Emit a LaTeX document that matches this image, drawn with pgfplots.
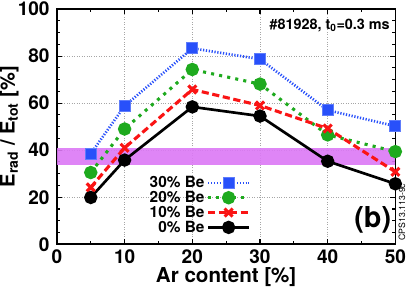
\documentclass[border=0pt]{standalone}
\usepackage{fontspec}
\setmainfont{TeX Gyre Heros}
\setsansfont{TeX Gyre Heros}
\usepackage{pgfplots}
\pgfplotsset{compat=1.18}
\definecolor{cblue}{RGB}{40,80,250}
\definecolor{cgreen}{RGB}{30,170,30}
\definecolor{cred}{RGB}{250,20,20}
\definecolor{cband}{RGB}{220,120,245}
\begin{document}
\begin{tikzpicture}
\begin{axis}[
  scale only axis, width=328bp, height=228bp,
  xmin=0, xmax=50, ymin=0, ymax=100,
  xtick={0,10,20,30,40,50}, ytick={0,20,40,60,80,100},
  minor x tick num=1, minor y tick num=3,
  tick align=inside, major tick length=5pt, minor tick length=3pt,
  axis line style={line width=1.6pt},
  every tick/.style={black, line width=1pt},
  grid=major, grid style={gray!70, dotted, line width=0.5pt},
  /pgf/number format/assume math mode=true,
  ticklabel style={font=\fontsize{18.5}{18.5}\selectfont\bfseries},
  xticklabel style={inner sep=2pt, yshift=-3pt},
  yticklabel style={inner sep=2pt, xshift=-5pt},
  xlabel={\fontsize{20}{20}\selectfont\bfseries Ar content [\%]},
  ylabel={\fontsize{19.5}{19.5}\selectfont\bfseries E$_{\mathbf{rad}}$ / E$_{\mathbf{tot}}$ [\%]},
  xlabel style={inner sep=0pt, yshift=-2pt},
  ylabel style={inner sep=0pt, yshift=-3pt},
  legend style={draw=none, fill=none, at={(0.573,0.035)}, anchor=south east,
    font=\fontsize{15}{15}\selectfont\bfseries, row sep=-2pt, inner sep=0pt},
  legend cell align=right, legend plot pos=right,
  legend image code/.code={\draw[#1, mark=none] (0cm,0cm) -- (1.4cm,0cm);
    \draw[#1, solid] plot[only marks] coordinates {(0.7cm,0cm)};},
  clip=false,
]
\fill[cband, opacity=0.9] (axis cs:0,33.5) rectangle (axis cs:50,41);
\addplot[cblue, line width=2.6pt, dash pattern=on 1.2pt off 1.6pt, mark=square*, mark size=5.3pt,
  mark options={solid, line width=1pt, fill=cblue, draw=cblue!75!white}] coordinates {
  (5,38.5) (10,58.8) (20,83.3) (30,78.7) (40,57) (50,50.2)};
\addlegendentry{30\% Be}
\addplot[cgreen, line width=3pt, dash pattern=on 3pt off 5pt, mark=*, mark size=5pt,
  mark options={solid, fill=cgreen}] coordinates {
  (5,30.5) (10,49) (20,74.3) (30,68.1) (40,46.5) (50,39.4)};
\addlegendentry{20\% Be}
\addplot[cred, line width=3pt, dash pattern=on 7pt off 3.5pt, mark=x, mark size=5.5pt,
  mark options={solid, line width=3pt}] coordinates {
  (5,24.2) (10,41) (20,65.8) (30,59) (40,49.2) (50,30.8)};
\addlegendentry{10\% Be}
\addplot[black, line width=2.6pt, mark=*, mark size=5.2pt,
  mark options={solid, fill=black}] coordinates {
  (5,19.9) (10,35.8) (20,58.4) (30,54.5) (40,35.3) (50,25.7)};
\addlegendentry{0\% Be}
\node[anchor=base east, font=\fontsize{14}{14}\selectfont\bfseries, inner sep=0pt] at (axis cs:49.2,91.2) {\#81928, t$_{\mathbf{0}}$=0.3 ms};
\node[anchor=base east, font=\fontsize{28}{28}\selectfont\bfseries, inner sep=0pt] at (axis cs:49.4,7) {(b)};
\node[rotate=90, anchor=north west, font=\fontsize{8.5}{8.5}\selectfont, inner sep=0pt] at (axis cs:50.45,1.5) {CPS13.113-9c};
\end{axis}
\end{tikzpicture}
\end{document}
